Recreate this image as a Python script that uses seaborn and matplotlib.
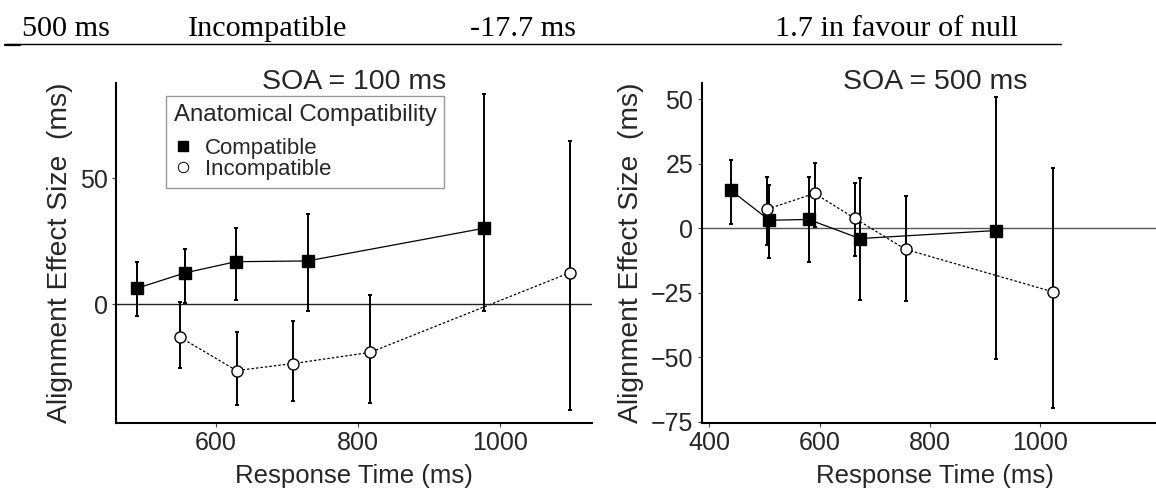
import matplotlib
matplotlib.use("Agg")
import matplotlib.pyplot as plt
from matplotlib.lines import Line2D
import numpy as np
import pandas as pd
import seaborn as sns

# ---- data: alignment effect by response-time bin ----
soa100_compat_rt = [489, 557, 628, 729, 978]
soa100_compat_eff = [6.3, 12.4, 16.8, 17.1, 30.1]
soa100_compat_lo = [-4.8, 0.5, 1.6, -2.6, -2.8]
soa100_compat_hi = [16.7, 21.9, 30.2, 35.6, 83.2]

soa100_incomp_rt = [549, 629, 709, 817, 1098]
soa100_incomp_eff = [-13.1, -26.4, -23.6, -19.2, 12.4]
soa100_incomp_lo = [-25.3, -40.0, -38.4, -39.2, -41.9]
soa100_incomp_hi = [0.7, -11.1, -6.7, 3.5, 64.8]

soa500_compat_rt = [439, 509, 580, 673, 919]
soa500_compat_eff = [14.7, 3.1, 3.4, -4.0, -0.9]
soa500_compat_lo = [1.7, -11.6, -13.1, -27.8, -50.6]
soa500_compat_hi = [26.5, 16.7, 19.9, 19.5, 51.0]

soa500_incomp_rt = [505, 591, 664, 756, 1024]
soa500_incomp_eff = [7.4, 13.5, 3.8, -8.2, -24.7]
soa500_incomp_lo = [-6.5, 0.5, -10.7, -28.2, -69.6]
soa500_incomp_hi = [20.0, 25.2, 17.7, 12.5, 23.5]

table_row = ["500 ms", "Incompatible", "-17.7 ms", "1.7 in favour of null"]
panel_titles = ["SOA = 100 ms", "SOA = 500 ms"]
legend_title = "Anatomical Compatibility"
conditions = ["Compatible", "Incompatible"]
x_label = "Response Time (ms)"
y_label = "Alignment Effect Size  (ms)"


def frame(rt, eff, lo, hi, soa, cond):
    return pd.DataFrame({"rt": rt, "eff": eff, "lo": lo, "hi": hi,
                         "soa": soa, "cond": cond})


df = pd.concat([
    frame(soa100_compat_rt, soa100_compat_eff, soa100_compat_lo, soa100_compat_hi, 100, "Compatible"),
    frame(soa100_incomp_rt, soa100_incomp_eff, soa100_incomp_lo, soa100_incomp_hi, 100, "Incompatible"),
    frame(soa500_compat_rt, soa500_compat_eff, soa500_compat_lo, soa500_compat_hi, 500, "Compatible"),
    frame(soa500_incomp_rt, soa500_incomp_eff, soa500_incomp_lo, soa500_incomp_hi, 500, "Incompatible"),
], ignore_index=True)

sns.set_style("ticks")
plt.rcParams["font.family"] = ["Liberation Sans", "DejaVu Sans"]

W, H = 1156, 501
fig = plt.figure(figsize=(W / 100, H / 100), dpi=100)
fig.patch.set_facecolor("white")

# ---- table row above the figure ----
serif = ["Liberation Serif", "DejaVu Serif"]
for txt, xpx in zip(table_row, [22, 188, 470, 775]):
    fig.text(xpx / W, 1 - 36 / H, txt, family=serif, fontsize=21.8,
             ha="left", va="baseline", color="black")
fig.add_artist(Line2D([5 / W, 1061 / W], [1 - 43.5 / H] * 2, color="black",
                      lw=1.0, transform=fig.transFigure))
fig.add_artist(Line2D([5 / W, 20 / W], [1 - 45 / H] * 2, color="black",
                      lw=1.6, transform=fig.transFigure))

styles = {
    "Compatible": dict(marker="s", mfc="black", ls="-", z=4),
    "Incompatible": dict(marker="o", mfc="white", ls=(0, (2.0, 1.6)), z=5),
}

panels = [
    dict(soa=100, rect=[116 / W, 78 / H, 476 / W, 340 / H],
         xlim=(459.2, 1129.6), ylim=(-47.2, 87.7),
         xticks=[600, 800, 1000], yticks=[0, 50], zero_color="#222222"),
    dict(soa=500, rect=[701.7 / W, 78 / H, 466.3 / W, 340 / H],
         xlim=(386.2, 1231.8), ylim=(-75.5, 56.3),
         xticks=[400, 600, 800, 1000], yticks=[-75, -50, -25, 0, 25, 50],
         zero_color="#555555"),
]

for i, p in enumerate(panels):
    ax = fig.add_axes(p["rect"])
    ax.set_facecolor("white")
    ax.axhline(0, color=p["zero_color"], lw=1.0, zorder=1)
    sub = df[df["soa"] == p["soa"]]
    for cond in conditions:
        d = sub[sub["cond"] == cond]
        st = styles[cond]
        ax.errorbar(d["rt"], d["eff"],
                    yerr=[d["eff"] - d["lo"], d["hi"] - d["eff"]],
                    fmt="none", ecolor="black", elinewidth=1.4,
                    capsize=1.6, capthick=1.4, zorder=2)
        sns.lineplot(data=d, x="rt", y="eff", ax=ax, sort=False,
                     estimator=None, errorbar=None, color="black",
                     lw=0.9, linestyle=st["ls"], marker=st["marker"],
                     markersize=8, markerfacecolor=st["mfc"],
                     markeredgecolor="black", markeredgewidth=1.0,
                     legend=False, zorder=st["z"])
    ax.set_xlim(*p["xlim"])
    ax.set_ylim(*p["ylim"])
    ax.set_xticks(p["xticks"])
    ax.set_yticks(p["yticks"])
    ax.tick_params(axis="both", labelsize=18, length=3, width=0.8,
                   pad=3, color="#444444")
    for side in ["top", "right"]:
        ax.spines[side].set_visible(False)
    for side in ["left", "bottom"]:
        ax.spines[side].set_linewidth(1.5)
        ax.spines[side].set_color("black")
    ax.set_xlabel(x_label, fontsize=18.5, labelpad=6)
    ax.set_ylabel(y_label, fontsize=20.3, labelpad=5)
    ax.text(0.5, 0.982, panel_titles[i], transform=ax.transAxes,
            ha="center", va="baseline", fontsize=20.5)

    if i == 0:
        handles = [
            Line2D([], [], ls="none", marker="s", markersize=7,
                   mfc="black", mec="black", label=conditions[0]),
            Line2D([], [], ls="none", marker="o", markersize=7.5,
                   mfc="white", mec="black", mew=0.7, label=conditions[1]),
        ]
        leg = ax.legend(handles=handles, title=legend_title,
                        loc="upper left", bbox_to_anchor=(0.105, 0.962),
                        borderaxespad=0, fontsize=16, title_fontsize=17.3,
                        frameon=True, fancybox=False, framealpha=1,
                        edgecolor="#999999", handlelength=0.8,
                        handletextpad=0.6, labelspacing=0.0,
                        borderpad=0.35, alignment="left")
        leg.get_frame().set_linewidth(1.0)
        # extra gap between the legend title and its entries
        leg._legend_box.sep = 9

fig.savefig("out.png", dpi=100, facecolor="white")
